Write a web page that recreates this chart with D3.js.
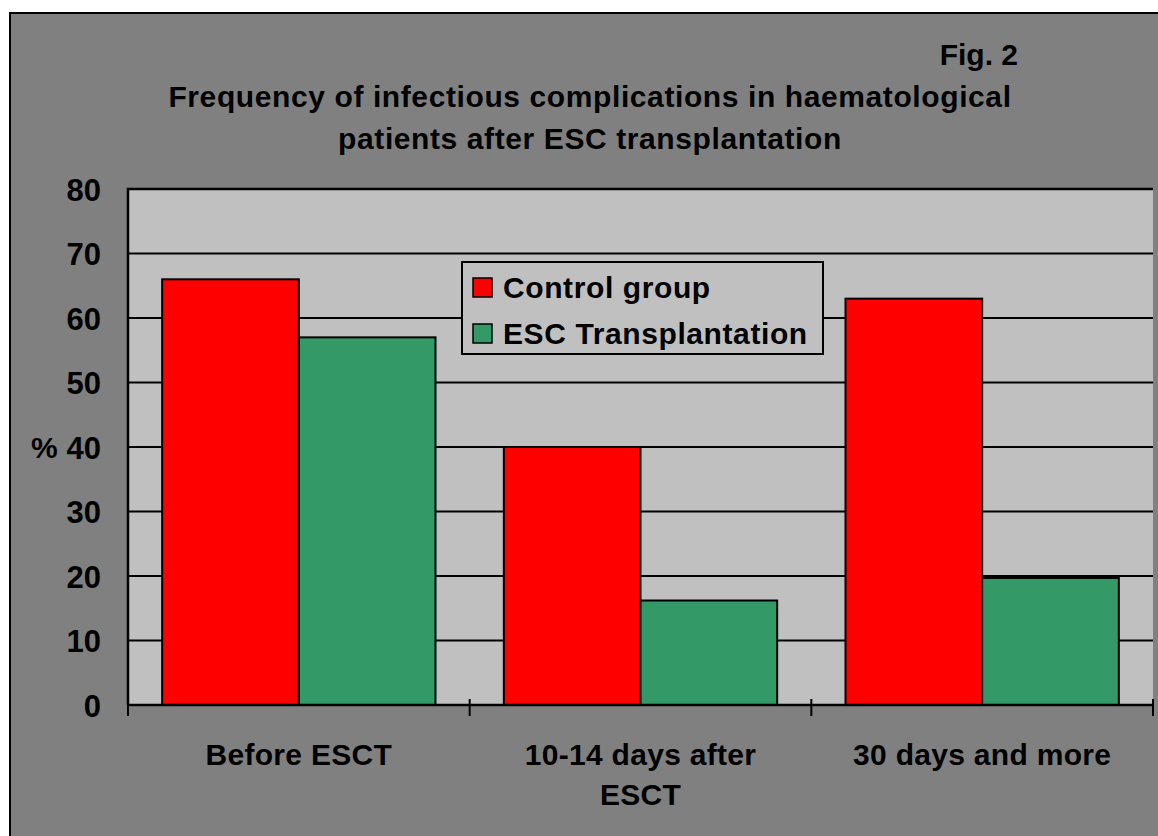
<!DOCTYPE html>
<html>
<head>
<meta charset="utf-8">
<script src="https://cdn.jsdelivr.net/npm/d3@7"></script>
<style>
  body { margin: 0; background: #fff; }
  svg text { font-family: "Liberation Sans", Arial, sans-serif; font-weight: bold; fill: #000; }
</style>
</head>
<body>
<div id="wrapper"></div>
<script>
// data
const categories = ["Before ESCT", "10-14 days after ESCT", "30 days and more"]
const categoryLines = [["Before ESCT"], ["10-14 days after", "ESCT"], ["30 days and more"]]
const seriesNames = ["Control group", "ESC Transplantation"]
const controlValues = [66, 40, 63]
const escValues = [57, 16.2, 19.7]
const yTicks = [0, 10, 20, 30, 40, 50, 60, 70, 80]
const titleLines = ["Frequency of infectious complications in haematological", "patients after ESC transplantation"]

const colors = ["#ff0000", "#339966"]

const dataset = categories.map((c, i) => ({
  category: c,
  values: [controlValues[i], escValues[i]],
}))

// dimensions
const width = 1158
const height = 836
const plot = { left: 128, top: 189, right: 1153, bottom: 705 }

const svg = d3.select("#wrapper")
  .append("svg")
  .attr("width", width)
  .attr("height", height)

// outer frame
svg.append("rect")
  .attr("x", 10)
  .attr("y", 13)
  .attr("width", width + 20)
  .attr("height", height + 20)
  .attr("fill", "#808080")
  .attr("stroke", "#000")
  .attr("stroke-width", 2)

// scales
const xScale = d3.scaleBand()
  .domain(categories)
  .range([plot.left, plot.right])
  .paddingInner(0.2)
  .paddingOuter(0.1)

const xSub = d3.scaleBand()
  .domain(seriesNames)
  .range([0, xScale.bandwidth()])

const yScale = d3.scaleLinear()
  .domain([0, 80])
  .range([plot.bottom, plot.top])

// plot area
svg.append("rect")
  .attr("x", plot.left)
  .attr("y", plot.top)
  .attr("width", plot.right - plot.left)
  .attr("height", plot.bottom - plot.top)
  .attr("fill", "#c0c0c0")

svg.append("path")
  .attr("d", `M${plot.left},${plot.bottom}V${plot.top}H${plot.right}`)
  .attr("fill", "none")
  .attr("stroke", "#000")
  .attr("stroke-width", 2.5)

// gridlines
svg.append("g")
  .selectAll("line")
  .data(yTicks.filter(d => d > 0 && d < 80))
  .join("line")
  .attr("x1", plot.left)
  .attr("x2", plot.right)
  .attr("y1", d => yScale(d))
  .attr("y2", d => yScale(d))
  .attr("stroke", "#000")
  .attr("stroke-width", 2)

// bars
const groups = svg.append("g")
  .selectAll("g")
  .data(dataset)
  .join("g")
  .attr("transform", d => `translate(${xScale(d.category)},0)`)

groups.selectAll("rect")
  .data(d => d.values.map((v, i) => ({ name: seriesNames[i], value: v, i })))
  .join("rect")
  .attr("x", d => xSub(d.name))
  .attr("y", d => yScale(d.value))
  .attr("width", xSub.bandwidth())
  .attr("height", d => yScale(0) - yScale(d.value))
  .attr("fill", d => colors[d.i])
  .attr("stroke", "#000")
  .attr("stroke-width", 2)

// x axis line and ticks
svg.append("line")
  .attr("x1", plot.left)
  .attr("x2", plot.right)
  .attr("y1", plot.bottom)
  .attr("y2", plot.bottom)
  .attr("stroke", "#000")
  .attr("stroke-width", 2.5)

const tickPositions = d3.range(categories.length + 1)
  .map(i => plot.left + i * xScale.step())

svg.append("g")
  .selectAll("line")
  .data(tickPositions)
  .join("line")
  .attr("x1", d => d)
  .attr("x2", d => d)
  .attr("y1", (d, i) => i === 0 ? plot.bottom : plot.bottom - 6)
  .attr("y2", plot.bottom + 11)
  .attr("stroke", "#000")
  .attr("stroke-width", 2)

// category labels
const catLabels = svg.append("g")
  .selectAll("text")
  .data(dataset)
  .join("text")
  .attr("x", d => xScale(d.category) + xScale.bandwidth() / 2)
  .attr("y", 765)
  .attr("text-anchor", "middle")
  .style("font-size", "30px")
  .style("letter-spacing", "0.3px")

catLabels.selectAll("tspan")
  .data((d, i) => categoryLines[i])
  .join("tspan")
  .attr("x", function () { return this.parentNode.getAttribute("x") })
  .attr("dy", (d, i) => i === 0 ? 0 : 40)
  .text(d => d)

// y axis
const yAxisGenerator = d3.axisLeft(yScale)
  .tickValues(yTicks)
  .tickSize(0)
  .tickPadding(27)

const yAxis = svg.append("g")
  .attr("transform", `translate(${plot.left},0)`)
  .call(yAxisGenerator)

yAxis.select(".domain").remove()
yAxis.selectAll("text")
  .style("font-family", "'Liberation Sans', Arial, sans-serif")
  .style("font-weight", "bold")
  .style("font-size", "31px")
  .attr("dy", "0.36em")

svg.append("text")
  .attr("x", 31)
  .attr("y", yScale(40) + 11)
  .style("font-size", "30px")
  .text("%")

// title
svg.append("text")
  .attr("x", 1018)
  .attr("y", 65)
  .attr("text-anchor", "end")
  .style("font-size", "30px")
  .text("Fig. 2")

svg.append("g")
  .selectAll("text")
  .data(titleLines)
  .join("text")
  .attr("x", 590)
  .attr("y", (d, i) => 107 + i * 42)
  .attr("text-anchor", "middle")
  .style("font-size", "30px")
  .style("letter-spacing", "0.6px")
  .text(d => d)

// legend
const legend = svg.append("g")
  .attr("transform", "translate(462,262)")

legend.append("rect")
  .attr("width", 361)
  .attr("height", 92)
  .attr("fill", "#c0c0c0")
  .attr("stroke", "#000")
  .attr("stroke-width", 2)

const legendItems = legend.selectAll(".item")
  .data(seriesNames)
  .join("g")
  .attr("class", "item")
  .attr("transform", (d, i) => `translate(0,${i * 46})`)

legendItems.append("rect")
  .attr("x", 11)
  .attr("y", 16)
  .attr("width", 19)
  .attr("height", 19)
  .attr("fill", (d, i) => colors[i])
  .attr("stroke", "#000")
  .attr("stroke-width", 1.5)

legendItems.append("text")
  .attr("x", 41)
  .attr("y", 36)
  .style("font-size", "30px")
  .style("letter-spacing", "0.6px")
  .text(d => d)
</script>
</body>
</html>
